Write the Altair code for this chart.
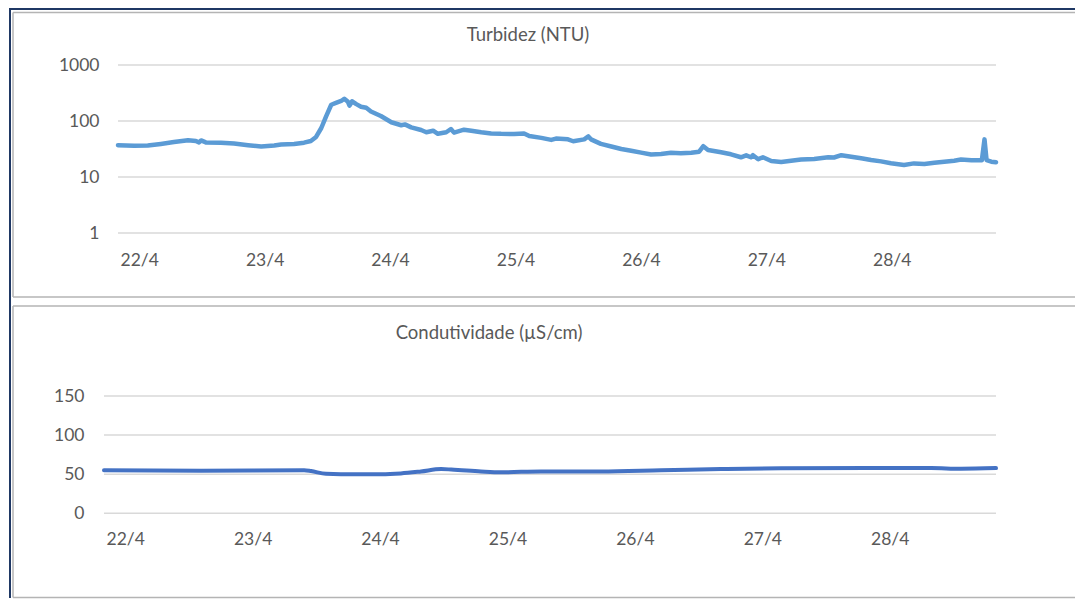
import altair as alt
import pandas as pd

# ---------------- data ----------------
DAY_LABELS = ["22/4", "23/4", "24/4", "25/4", "26/4", "27/4", "28/4"]
DAY_TICKS_H = [0, 24, 48, 72, 96, 120, 144]

TURB_HOURS = [0, 3.1, 5.7, 8.2, 10.7, 13.4, 14.9, 15.5, 15.9, 16.8, 19.7, 22.2,
              24.9, 27.4, 29.9, 31.2, 33.7, 35.6, 36.9, 37.9, 38.9, 39.8, 40.8,
              41.7, 42.7, 43.3, 44.0, 44.3, 44.8, 45.6, 46.5, 47.5, 48.4, 50.3,
              52.3, 54.2, 54.9, 56.1, 58.0, 59.0, 60.3, 61.2, 62.8, 63.7, 64.3,
              66.2, 67.6, 69.5, 71.4, 73.3, 75.8, 77.7, 78.7, 81.0, 82.9, 83.8,
              86.1, 87.1, 89.2, 90.0, 90.5, 92.4, 94.4, 96.3, 98.2, 100.1, 102.0,
              103.9, 105.8, 107.7, 109.7, 111.2, 112.0, 112.9, 115.4, 117.3,
              119.2, 120.2, 121.1, 121.5, 122.5, 123.4, 125.0, 126.9, 128.8,
              130.7, 133.2, 135.9, 137.0, 138.4, 140.3, 142.2, 144.1, 146.0,
              147.9, 150.4, 152.3, 154.3, 156.2, 158.1, 160.0, 161.3, 163.3,
              165.3, 165.8, 166.2, 167.1, 168.0]
TURB_VALUES = [37, 36, 36.5, 39, 42, 45.5, 44, 41.5, 45, 41.5, 41, 39.5,
               37, 35, 36.5, 38, 39, 41, 44, 52, 75, 120, 195,
               210, 228, 250, 220, 188, 225, 200, 180, 172, 148, 123,
               95, 84, 87, 77, 69, 63, 67, 59, 63, 72, 62,
               70, 67, 63, 60, 59, 58.5, 60, 54, 50, 46, 48.5,
               47, 43.5, 47, 53, 47, 39, 35, 31.6, 29.5, 27.2, 25.2,
               25.7, 27, 26.5, 27.2, 28.3, 35.5, 30.4, 27.6, 25.4,
               22.5, 24.4, 22.5, 24.5, 20.8, 22.5, 19.3, 18.5, 19.5,
               20.5, 21, 22.5, 22.3, 24.5, 23, 21.6, 20.1, 19,
               17.6, 16.4, 17.5, 17.1, 18, 18.8, 19.5, 20.5, 20,
               20, 47, 20, 18.8, 18.3]
TURB_TICKS = [1, 10, 100, 1000]

COND_HOURS = [0, 18.3, 37.7, 39.0, 41.8, 44.6, 52.2, 55.9, 59.7, 63.5, 65.4,
              71.0, 74.8, 82.3, 93.6, 104.9, 116.2, 127.5, 144.5, 155.8,
              161.4, 168.0]
COND_VALUES = [55, 54.5, 55, 54, 50.5, 50, 50, 51, 53.5, 56.5, 56,
               53.5, 52.5, 53.5, 53.5, 55, 56.5, 57.5, 57.8, 57.8,
               57, 57.8]
COND_TICKS = [0, 50, 100, 150]

# ---------------- style ----------------
FONT = "Lato"
TXT = "#595959"
GRID = "#D9D9D9"
PANEL = "#B4B4B4"
NAVY = "#1F3864"
FS = 17.5
TFS = 18.5

turb = pd.DataFrame({"h": TURB_HOURS, "v": TURB_VALUES})
cond = pd.DataFrame({"h": COND_HOURS, "v": COND_VALUES})
tgrid = pd.DataFrame({"v": TURB_TICKS})
cgrid = pd.DataFrame({"v": COND_TICKS})
one = pd.DataFrame({"k": [0]})

label_expr = "[" + ",".join("'%s'" % d for d in DAY_LABELS) + "][round(datum.value / 24)]"


def x_axis(pad):
    return alt.Axis(values=DAY_TICKS_H, labelExpr=label_expr, grid=False, domain=False,
                    ticks=False, tickSize=0, labelAlign="left", labelOffset=2,
                    labelBaseline="middle", labelPadding=pad, labelFont=FONT,
                    labelFontSize=FS, labelColor=TXT, title=None)


def y_axis(values, pad):
    return alt.Axis(values=values, grid=False, domain=False, ticks=False, tickSize=0,
                    labelPadding=pad, labelFont=FONT, labelFontSize=FS,
                    labelColor=TXT, title=None, format="d")


def hrule(x, x2, y, color, w):
    return alt.Chart(one).mark_rule(color=color, strokeWidth=w).encode(
        x=alt.value(x), x2=alt.value(x2), y=alt.value(y))


def vrule(x, y, y2, color, w):
    return alt.Chart(one).mark_rule(color=color, strokeWidth=w).encode(
        x=alt.value(x), y=alt.value(y), y2=alt.value(y2))


def title_text(txt, x, y):
    return alt.Chart(one).mark_text(text=txt, font=FONT, fontSize=TFS, color=TXT,
                                    align="center", baseline="middle").encode(
        x=alt.value(x), y=alt.value(y))


W = 892
H1 = 168
H2 = 117.3

# ---------------- top panel: turbidity (log) ----------------
ty = alt.Scale(type="log", domain=[1, 1000])
tx = alt.Scale(domain=[0, 168], range=[14, W])
t_yaxis = y_axis(TURB_TICKS, 5)

t_grid = alt.Chart(tgrid).mark_rule(color=GRID, strokeWidth=1.5).encode(
    y=alt.Y("v:Q", scale=ty, axis=t_yaxis),
    x=alt.value(14), x2=alt.value(W))
t_line = alt.Chart(turb).mark_line(color="#5B9BD5", strokeWidth=4.5,
                                   strokeJoin="round", strokeCap="round").encode(
    x=alt.X("h:Q", scale=tx, axis=x_axis(27)),
    y=alt.Y("v:Q", scale=ty, axis=t_yaxis))

top = alt.layer(
    vrule(-94, -56, 533, NAVY, 2),
    hrule(-95, 971, -56, NAVY, 2),
    vrule(-91, -52.5, 232, PANEL, 1.5),
    hrule(-91, 971, -52.5, PANEL, 1.5),
    hrule(-91, 971, 232, PANEL, 1.5),
    title_text("Turbidez (NTU)", 424, -30),
    t_grid, t_line,
).properties(width=W, height=H1)

# ---------------- bottom panel: conductivity ----------------
cy = alt.Scale(domain=[0, 150])
cx = alt.Scale(domain=[0, 168])
c_yaxis = y_axis(COND_TICKS, 20)

c_grid = alt.Chart(cgrid).mark_rule(color=GRID, strokeWidth=1.5).encode(
    y=alt.Y("v:Q", scale=cy, axis=c_yaxis),
    x=alt.value(0), x2=alt.value(W))
c_line = alt.Chart(cond).mark_line(color="#4472C4", strokeWidth=4, interpolate="monotone",
                                   strokeJoin="round", strokeCap="round").encode(
    x=alt.X("h:Q", scale=cx, axis=x_axis(26.4)),
    y=alt.Y("v:Q", scale=cy, axis=c_yaxis))

bottom = alt.layer(
    vrule(-94, -100, 202, NAVY, 2),
    vrule(-91, -90, 201.5, PANEL, 1.5),
    hrule(-91, 971, -90, PANEL, 1.5),
    hrule(-91, 971, 201.5, PANEL, 1.5),
    title_text("Condutividade (µS/cm)", 385, -63),
    c_grid, c_line,
).properties(width=W, height=H2)

chart = alt.vconcat(top, bottom, spacing=163, bounds="flush").properties(
    padding=0, background="white"
).configure_view(strokeWidth=0, stroke=None)

chart.save("out.html", embed_options={"renderer": "svg", "actions": False})
